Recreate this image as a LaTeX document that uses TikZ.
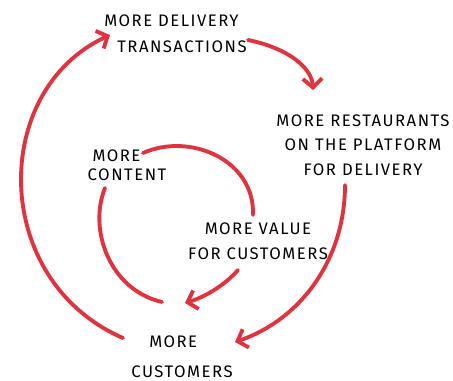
\documentclass[tikz,border=0pt]{standalone}
\usepackage{fontspec}
\setmainfont{Fira Sans}[LetterSpace=9]
\usetikzlibrary{arrows.meta}
\definecolor{loopred}{RGB}{222,52,64}
\begin{document}
\begin{tikzpicture}[x=0.02cm, y=-0.02cm]
    \tikzset{>={Straight Barb[length=5pt,width=11pt]},
      loop/.style={draw=loopred, line width=2.2pt, line cap=round},
      lbl/.style={align=center, font=\fontsize{9.5}{14}\selectfont, inner sep=0pt}}
    \useasboundingbox (0,0) rectangle (453,380);
    \node [lbl] (trans) at (182,34) {MORE DELIVERY\hspace*{12pt}\\[1pt]TRANSACTIONS};
    \node [lbl] (rest) at (363,145) {MORE RESTAURANTS\\ON THE PLATFORM\\FOR DELIVERY};
    \node [lbl] (content) at (127,165) {MORE\hspace*{12pt}\\[-3pt]CONTENT};
    \node [lbl] (value) at (258,241) {MORE VALUE\\FOR CUSTOMERS};
    \node [lbl] (cust) at (182,357) {MORE\hspace*{10pt}\\[3pt]CUSTOMERS};
    \draw [loop, ->] ([shift={(-59,-19)}]cust.center) .. controls (-10,280) and (-10,90) .. ([shift={(-72,1)}]trans.center);
    \draw [loop, ->] ([shift={(66,6)}]trans.center) .. controls (288,48) and (312,68) .. ([shift={(-50,-55)}]rest.center);
    \draw [loop, ->] ([shift={(-18,40)}]rest.center) .. controls (345,260) and (300,320) .. ([shift={(53,-15)}]cust.center);
    \draw [loop] ([shift={(16,-12)}]content.center) .. controls (190,132) and (255,160) .. ([shift={(-5,-26)}]value.center);
    \draw [loop] ([shift={(-22,23)}]content.center) .. controls (88,230) and (110,290) .. ([shift={(-20,-55)}]cust.center);
    \draw [loop, ->] ([shift={(-20,29)}]value.center) .. controls (225,285) and (205,297) .. ([shift={(3,-54)}]cust.center);
\end{tikzpicture}
\end{document}
